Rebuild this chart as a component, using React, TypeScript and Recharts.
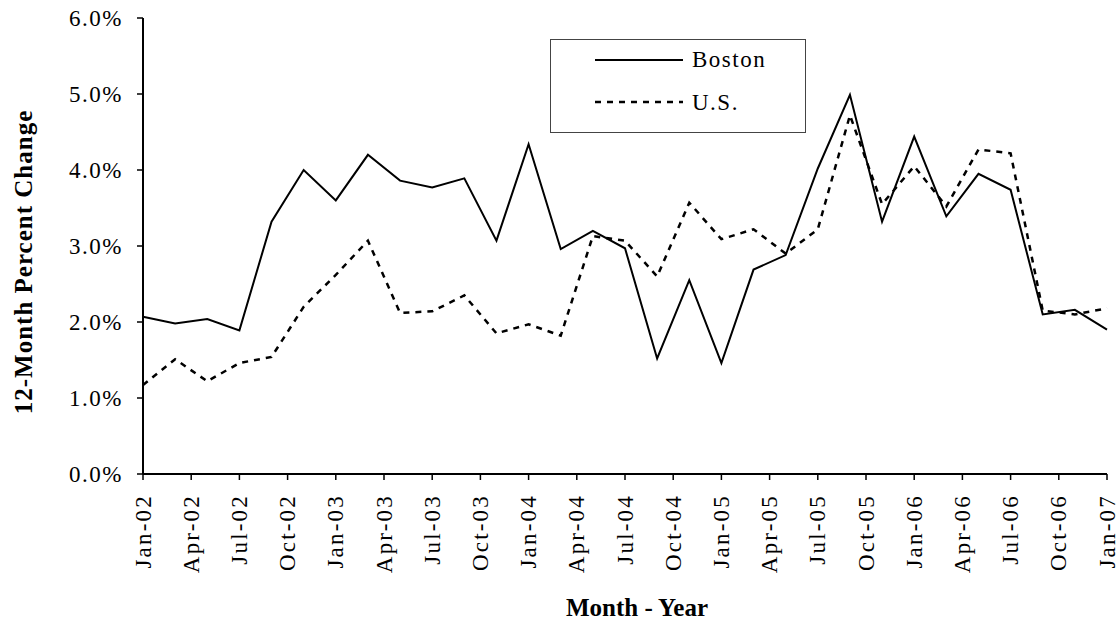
import { LineChart, Line, XAxis, YAxis, Label } from "recharts";

// bimonthly observations, Jan-02 .. Jan-07
const dates = [
  "Jan-02", "Mar-02", "May-02", "Jul-02", "Sep-02", "Nov-02",
  "Jan-03", "Mar-03", "May-03", "Jul-03", "Sep-03", "Nov-03",
  "Jan-04", "Mar-04", "May-04", "Jul-04", "Sep-04", "Nov-04",
  "Jan-05", "Mar-05", "May-05", "Jul-05", "Sep-05", "Nov-05",
  "Jan-06", "Mar-06", "May-06", "Jul-06", "Sep-06", "Nov-06",
  "Jan-07",
];

const boston = [
  2.07, 1.98, 2.04, 1.89, 3.32, 4.0,
  3.6, 4.2, 3.86, 3.77, 3.89, 3.07,
  4.34, 2.96, 3.2, 2.97, 1.52, 2.55,
  1.46, 2.69, 2.88, 4.02, 4.99, 3.32,
  4.44, 3.39, 3.95, 3.74, 2.1, 2.16,
  1.9,
];

const us = [
  1.17, 1.51, 1.22, 1.46, 1.54, 2.2,
  2.62, 3.07, 2.12, 2.14, 2.35, 1.85,
  1.97, 1.82, 3.13, 3.07, 2.6, 3.57,
  3.09, 3.22, 2.9, 3.22, 4.72, 3.55,
  4.05, 3.52, 4.27, 4.22, 2.15, 2.1,
  2.18,
];

const tickLabels = [
  "Jan-02", "Apr-02", "Jul-02", "Oct-02",
  "Jan-03", "Apr-03", "Jul-03", "Oct-03",
  "Jan-04", "Apr-04", "Jul-04", "Oct-04",
  "Jan-05", "Apr-05", "Jul-05", "Oct-05",
  "Jan-06", "Apr-06", "Jul-06", "Oct-06",
  "Jan-07",
];

const yTicks = [0, 1, 2, 3, 4, 5, 6];

const MONTHS = ["Jan", "Feb", "Mar", "Apr", "May", "Jun", "Jul", "Aug", "Sep", "Oct", "Nov", "Dec"];
const FONT = '"Liberation Serif", "Times New Roman", serif';

// months since Jan-02
const monthIndex = (label: string) => {
  const [mon, yy] = label.split("-");
  return (Number(yy) - 2) * 12 + MONTHS.indexOf(mon);
};

const data = dates.map((d, i) => ({ m: monthIndex(d), boston: boston[i], us: us[i] }));
const xTicks = tickLabels.map(monthIndex);

const XTick = (props: any) => {
  const { x, payload } = props;
  const y = props.y + 12;
  const label = tickLabels.find((l) => monthIndex(l) === payload.value) ?? "";
  return (
    <text
      x={x}
      y={y}
      transform={`rotate(-90, ${x}, ${y})`}
      textAnchor="end"
      dy="0.33em"
      fontSize={23}
      fontFamily={FONT}
      fill="#000"
      style={{ letterSpacing: 2.2 }}
    >
      {label}
    </text>
  );
};

const YTick = (props: any) => {
  const { x, y, payload } = props;
  return (
    <text
      x={x}
      y={y}
      textAnchor="end"
      dy="0.35em"
      fontSize={23}
      fontFamily={FONT}
      fill="#000"
      style={{ letterSpacing: 1.5 }}
    >
      {payload.value.toFixed(1) + "%"}
    </text>
  );
};

const YTitle = (props: any) => {
  const { x, y, height } = props.viewBox;
  const cx = x + 32;
  const cy = y + height / 2 + 16;
  return (
    <text
      x={cx}
      y={cy}
      transform={`rotate(-90, ${cx}, ${cy})`}
      textAnchor="middle"
      fontSize={25}
      fontWeight="bold"
      fontFamily={FONT}
      fill="#000"
      style={{ letterSpacing: 1 }}
    >
      12-Month Percent Change
    </text>
  );
};

const XTitle = (props: any) => {
  const { x, y, width } = props.viewBox;
  return (
    <text
      x={x + width / 2 + 12}
      y={y + 142}
      textAnchor="middle"
      fontSize={25}
      fontWeight="bold"
      fontFamily={FONT}
      fill="#000"
    >
      Month - Year
    </text>
  );
};

const LegendBox = () => (
  <svg
    width={256}
    height={94}
    style={{ position: "absolute", left: 550, top: 39 }}
    fontFamily={FONT}
  >
    <rect x={0.5} y={0.5} width={255} height={93} fill="#fff" stroke="#444" strokeWidth={1} />
    <line x1={45} y1={21} x2={133} y2={21} stroke="#000" strokeWidth={2} />
    <text x={142} y={28} fontSize={23} fill="#000" style={{ letterSpacing: 1.5 }}>
      Boston
    </text>
    <line x1={45} y1={63} x2={133} y2={63} stroke="#000" strokeWidth={2.5} strokeDasharray="6 6" />
    <text x={142} y={71} fontSize={23} fill="#000" style={{ letterSpacing: 1.5 }}>
      U.S.
    </text>
  </svg>
);

const App = () => {
  return (
    <div style={{ position: "absolute", left: 0, top: 0, width: 1120, height: 621, background: "#fff" }}>
      <LineChart width={1120} height={621} data={data} margin={{ top: 18, right: 13, bottom: 0, left: 0 }}>
        <XAxis
          dataKey="m"
          type="number"
          domain={[0, 60]}
          ticks={xTicks}
          interval={0}
          height={147}
          tickSize={6}
          tick={<XTick />}
          axisLine={{ stroke: "#000", strokeWidth: 2 }}
          tickLine={{ stroke: "#000", strokeWidth: 1.5 }}
        >
          <Label content={<XTitle />} />
        </XAxis>
        <XAxis
          xAxisId="top"
          orientation="top"
          type="number"
          domain={[0, 60]}
          height={0}
          tick={false}
          tickLine={false}
          axisLine={{ stroke: "#000", strokeWidth: 2 }}
        />
        <YAxis
          domain={[0, 6]}
          ticks={yTicks}
          interval={0}
          width={143}
          tickSize={6}
          tickMargin={14}
          tick={<YTick />}
          axisLine={{ stroke: "#000", strokeWidth: 2 }}
          tickLine={{ stroke: "#000", strokeWidth: 1.5 }}
        >
          <Label content={<YTitle />} />
        </YAxis>
        <YAxis
          yAxisId="right"
          orientation="right"
          domain={[0, 6]}
          width={0}
          tick={false}
          tickLine={false}
          axisLine={{ stroke: "#000", strokeWidth: 2 }}
        />
        <Line
          type="linear"
          dataKey="boston"
          name="Boston"
          stroke="#000"
          strokeWidth={2}
          dot={false}
          isAnimationActive={false}
        />
        <Line
          type="linear"
          dataKey="us"
          name="U.S."
          stroke="#000"
          strokeWidth={2.5}
          strokeDasharray="6 6"
          dot={false}
          isAnimationActive={false}
        />
      </LineChart>
      <LegendBox />
    </div>
  );
};

export default App;
